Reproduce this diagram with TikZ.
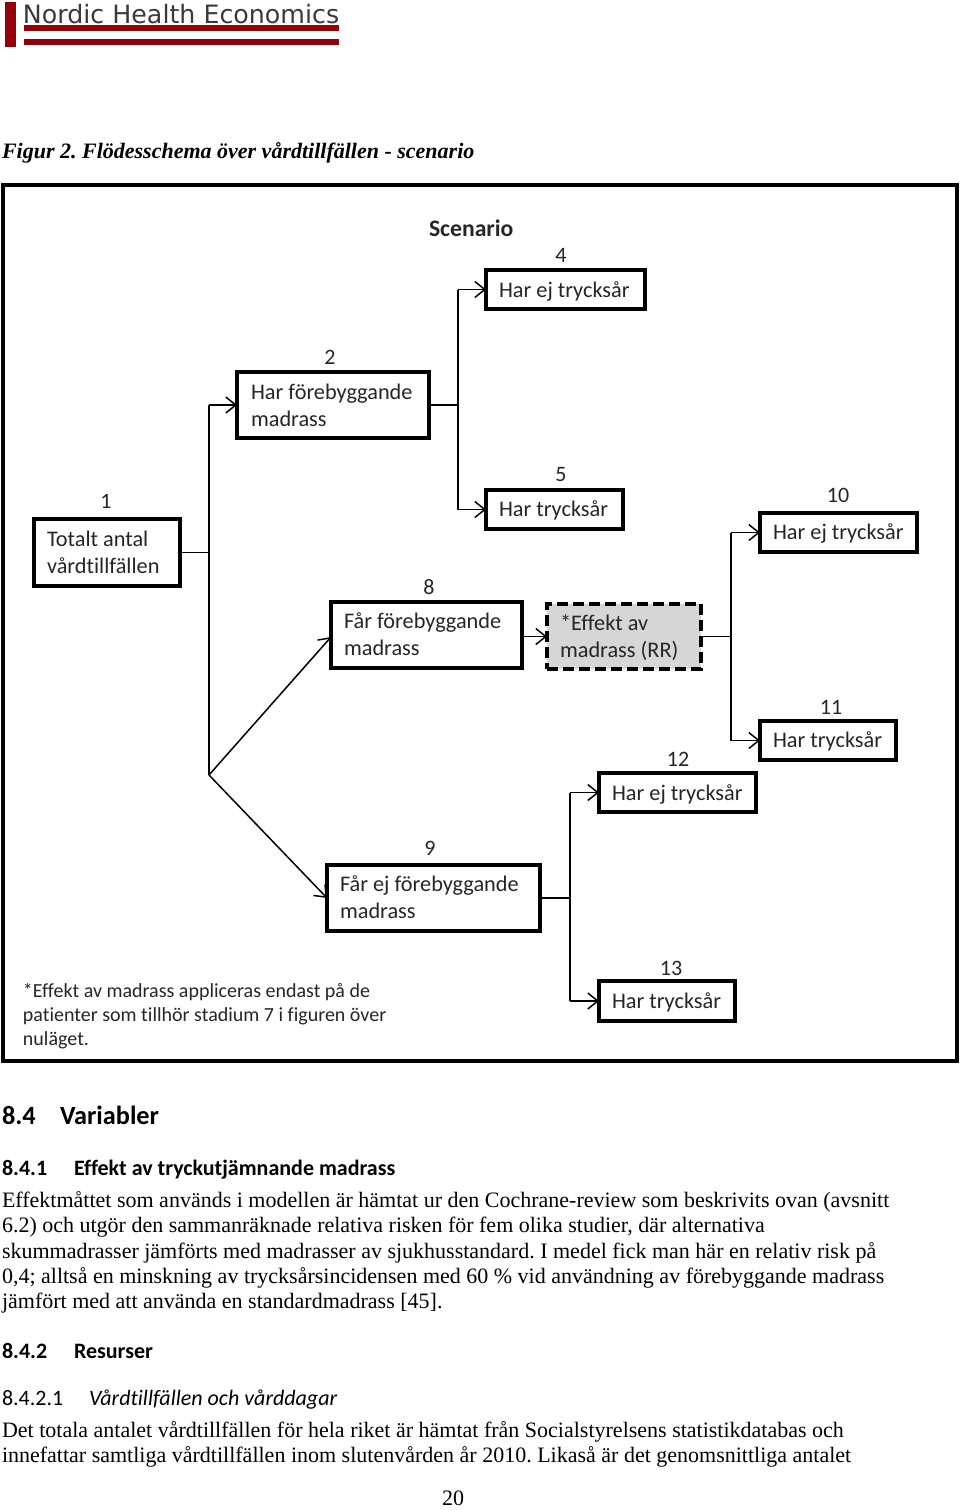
\documentclass[tikz,border=0pt]{standalone}
\usepackage{fontspec}
\setmainfont{Liberation Serif}
\newfontfamily\calfont[Ligatures=NoCommon]{Carlito}
\newfontfamily\logofont{DejaVu Sans}
\usetikzlibrary{arrows.meta}
\definecolor{logored}{HTML}{960008}
\definecolor{logogray}{HTML}{3A3A3A}
\frenchspacing
\tikzset{
 x=1pt,y=-1pt,
 every node/.style={inner sep=0pt,outer sep=0pt},
 flowbox/.style={draw=black,line width=3.4pt,rectangle,fill=white},
 boxtxt/.style={anchor=base west,font=\calfont\fontsize{22.3}{27}\selectfont,text=black!85},
 num/.style={anchor=base,font=\calfont\fontsize{22}{26}\selectfont,text=black!85},
 foot/.style={anchor=base west,font=\calfont\fontsize{20}{24}\selectfont,text=black!85},
 body/.style={anchor=base west,font=\fontsize{22}{25}\selectfont},
 headone/.style={anchor=base west,font=\calfont\bfseries\fontsize{26.3}{30}\selectfont},
 headtwo/.style={anchor=base west,font=\calfont\bfseries\fontsize{22}{25}\selectfont},
 conn/.style={line width=1.5pt,draw=black},
 arr/.style={conn,-{Straight Barb[length=10pt,width=16pt,line width=1.5pt]}},
}
\begin{document}
\begin{tikzpicture}
\useasboundingbox (0,0) rectangle (960,1510);
\fill[white] (0,0) rectangle (960,1510);
% logo
\fill[logored] (5,2) rectangle (16,47);
\fill[logored] (24,25) rectangle (339,31);
\fill[logored] (24,39) rectangle (339,45);
\node[anchor=base west,font=\logofont\fontsize{25.3}{28}\selectfont,text=logogray] (logo) at (23,23) {Nordic Health Economics};
\node[anchor=base west,font=\bfseries\itshape\fontsize{22}{26}\selectfont] (cap) at (2,158) {Figur 2. Flödesschema över vårdtillfällen - scenario};
% frame
\node[draw=black,line width=4pt,minimum width=954pt,minimum height=876pt] (frame) at (480,623) {};
% boxes
\node[flowbox,minimum width=146pt,minimum height=67pt] (b1) at (107,552.5) {};
\node[flowbox,minimum width=192pt,minimum height=66pt] (b2) at (333,405) {};
\node[flowbox,minimum width=159pt,minimum height=39pt] (b4) at (565.5,289.5) {};
\node[flowbox,minimum width=137pt,minimum height=39pt] (b5) at (554.5,509.5) {};
\node[flowbox,minimum width=191pt,minimum height=66pt] (b8) at (426.5,635) {};
\node[flowbox,dash pattern=on 11pt off 5pt,fill=black!16,minimum width=154pt,minimum height=65pt] (rr) at (624,636.5) {};
\node[flowbox,minimum width=213pt,minimum height=66pt] (b9) at (433.5,898) {};
\node[flowbox,minimum width=157pt,minimum height=39pt] (b10) at (838.5,532.5) {};
\node[flowbox,minimum width=136pt,minimum height=39pt] (b11) at (828,740.5) {};
\node[flowbox,minimum width=157pt,minimum height=39pt] (b12) at (677.5,792.5) {};
\node[flowbox,minimum width=136pt,minimum height=40pt] (b13) at (667,1001) {};
% box texts
\node[boxtxt] (t1a) at (47,546) {Totalt antal};
\node[boxtxt] (t1b) at (47,573) {vårdtillfällen};
\node[boxtxt] (t2a) at (251,399) {Har förebyggande};
\node[boxtxt] (t2b) at (251,426) {madrass};
\node[boxtxt] (t4) at (499,297) {Har ej trycksår};
\node[boxtxt] (t5) at (499,516) {Har trycksår};
\node[boxtxt] (t8a) at (344,628) {Får förebyggande};
\node[boxtxt] (t8b) at (344,655) {madrass};
\node[boxtxt] (tra) at (560,630) {*Effekt av};
\node[boxtxt] (trb) at (560,657) {madrass (RR)};
\node[boxtxt] (t9a) at (340,891) {Får ej förebyggande};
\node[boxtxt] (t9b) at (340,918) {madrass};
\node[boxtxt] (t10) at (773,539) {Har ej trycksår};
\node[boxtxt] (t11) at (773,747) {Har trycksår};
\node[boxtxt] (t12) at (612,800) {Har ej trycksår};
\node[boxtxt] (t13) at (612,1008) {Har trycksår};
% numbers
\node[num] (n1) at (106,508) {1};
\node[num] (n2) at (330,364) {2};
\node[num] (n4) at (561,262) {4};
\node[num] (n5) at (561,481) {5};
\node[num] (n8) at (429,594) {8};
\node[num] (n9) at (430,855) {9};
\node[num] (n10) at (838,502) {10};
\node[num] (n11) at (831,714) {11};
\node[num] (n12) at (678,766) {12};
\node[num] (n13) at (671,975) {13};
\node[anchor=base west,font=\calfont\bfseries\fontsize{23.7}{27}\selectfont,text=black!85] (scen) at (429,236) {Scenario};
% junctions
\coordinate (j1) at (209,552.5);
\coordinate (j1t) at (209,405);
\coordinate (j1b) at (209,775);
\coordinate (j2) at (458,405);
\coordinate (j2t) at (458,289.5);
\coordinate (j2b) at (458,509.5);
\coordinate (j3) at (731,636.5);
\coordinate (j3t) at (731,532.5);
\coordinate (j3b) at (731,740.5);
\coordinate (j4) at (570,898);
\coordinate (j4t) at (570,792.5);
\coordinate (j4b) at (570,1001);
% connectors
\draw[conn] (b1.east) -- (j1);
\draw[conn] (j1t) -- (j1b);
\draw[arr] (j1t) -- (b2.west);
\draw[arr] (j1b) -- ([yshift=-2pt]b8.west);
\draw[arr] (j1b) -- (b9.west);
\draw[conn] (b2.east) -- (j2);
\draw[conn] (j2t) -- (j2b);
\draw[arr] (j2t) -- (b4.west);
\draw[arr] (j2b) -- (b5.west);
\draw[arr] ([yshift=-1.5pt]b8.east) -- (rr.west);
\draw[conn] (rr.east) -- (j3);
\draw[conn] (j3t) -- (j3b);
\draw[arr] (j3t) -- (b10.west);
\draw[arr] (j3b) -- (b11.west);
\draw[conn] (b9.east) -- (j4);
\draw[conn] (j4t) -- (j4b);
\draw[arr] (j4t) -- (b12.west);
\draw[arr] (j4b) -- (b13.west);
% footnote
\node[foot] (f1) at (23,997) {*Effekt av madrass appliceras endast på de};
\node[foot] (f2) at (23,1021) {patienter som tillhör stadium 7 i figuren över};
\node[foot] (f3) at (23,1045) {nuläget.};
% text
\node[headone] (h1) at (2,1124) {8.4};
\node[headone] (h1b) at (60,1124) {Variabler};
\node[headtwo] (h2) at (2,1175) {8.4.1};
\node[headtwo] (h2b) at (74,1175) {Effekt av tryckutjämnande madrass};
\node[body] (l1) at (2,1207) {Effektmåttet som används i modellen är hämtat ur den Cochrane-review som beskrivits ovan (avsnitt};
\node[body] (l2) at (2,1232) {6.2) och utgör den sammanräknade relativa risken för fem olika studier, där alternativa};
\node[body] (l3) at (2,1258) {skummadrasser jämförts med madrasser av sjukhusstandard. I medel fick man här en relativ risk på};
\node[body] (l4) at (2,1283) {0,4; alltså en minskning av trycksårsincidensen med 60 \% vid användning av förebyggande madrass};
\node[body] (l5) at (2,1308) {jämfört med att använda en standardmadrass [45].};
\node[headtwo] (h3) at (2,1358) {8.4.2};
\node[headtwo] (h3b) at (74,1358) {Resurser};
\node[anchor=base west,font=\calfont\fontsize{22}{25}\selectfont] (h4) at (2,1405) {8.4.2.1};
\node[anchor=base west,font=\calfont\itshape\fontsize{22}{25}\selectfont] (h4b) at (89,1405) {Vårdtillfällen och vårddagar};
\node[body] (l6) at (2,1437) {Det totala antalet vårdtillfällen för hela riket är hämtat från Socialstyrelsens statistikdatabas och};
\node[body] (l7) at (2,1462) {innefattar samtliga vårdtillfällen inom slutenvården år 2010. Likaså är det genomsnittliga antalet};
\node[body] (pg) at (442,1505) {20};
\end{tikzpicture}
\end{document}
